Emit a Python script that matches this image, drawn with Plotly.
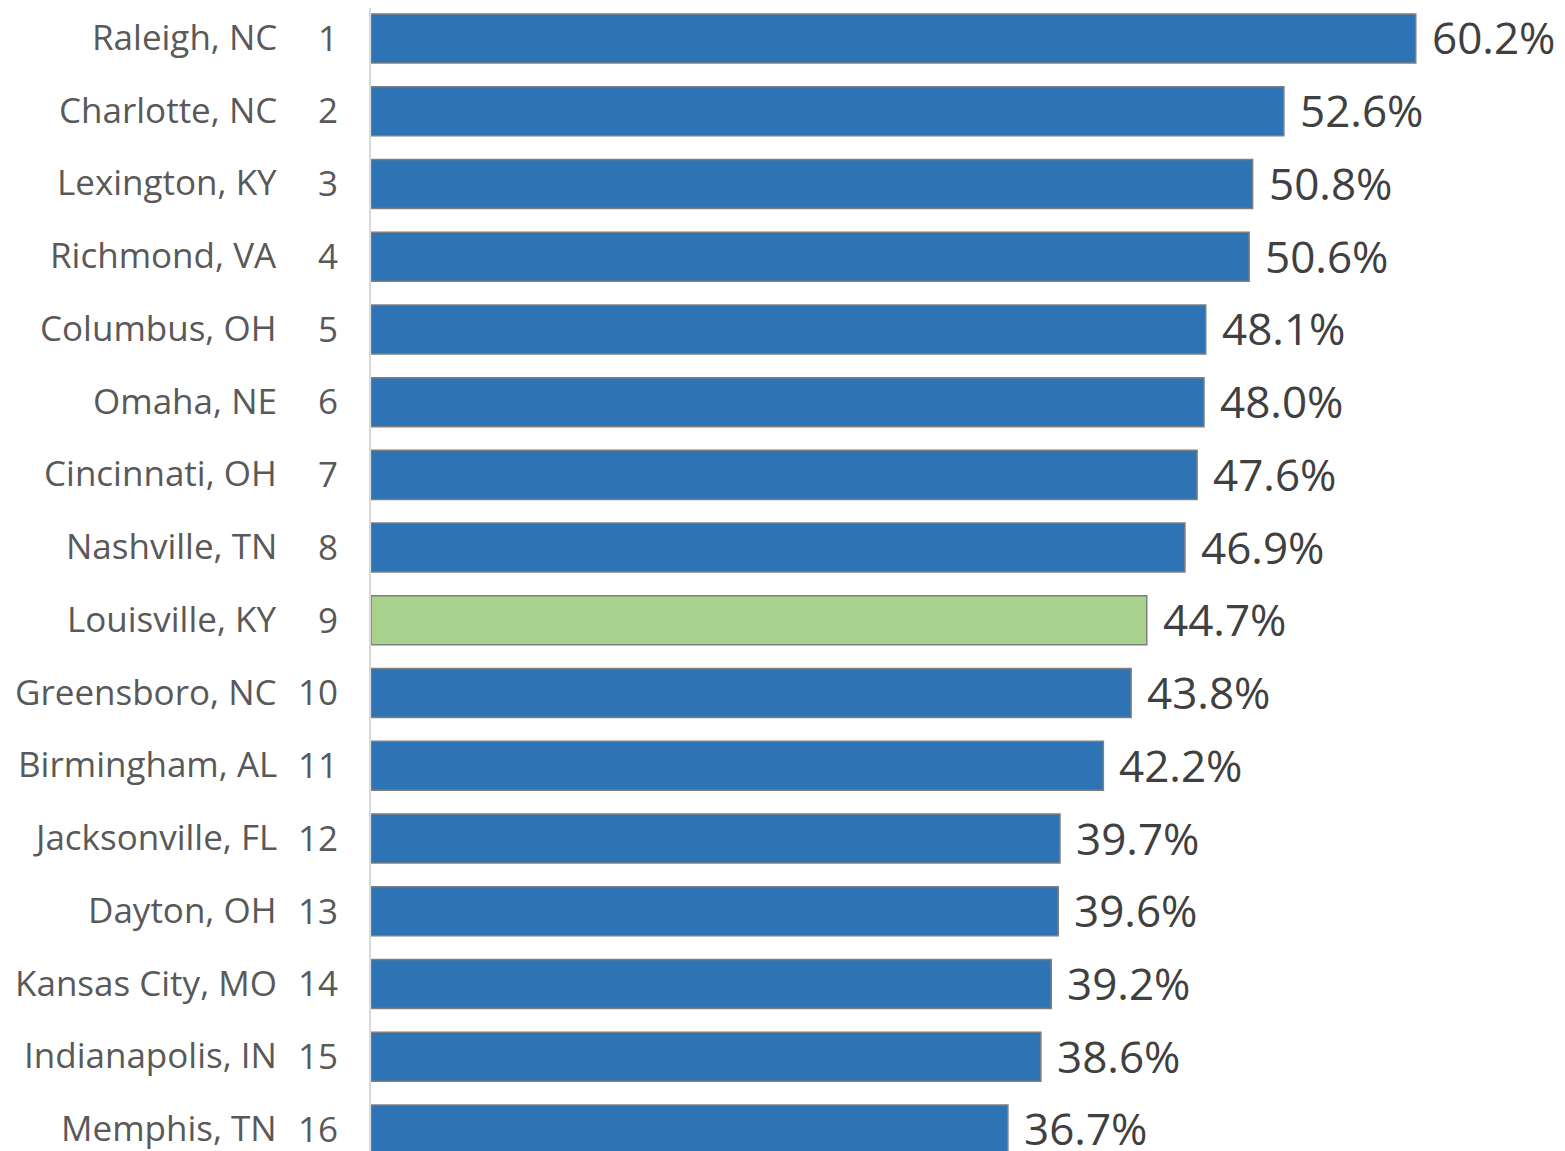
import plotly.graph_objects as go

# data
cities = ["Raleigh, NC", "Charlotte, NC", "Lexington, KY", "Richmond, VA",
          "Columbus, OH", "Omaha, NE", "Cincinnati, OH", "Nashville, TN",
          "Louisville, KY", "Greensboro, NC", "Birmingham, AL", "Jacksonville, FL",
          "Dayton, OH", "Kansas City, MO", "Indianapolis, IN", "Memphis, TN"]
ranks = [str(i) for i in range(1, 17)]
values = [60.2, 52.6, 50.8, 50.6, 48.1, 48.0, 47.6, 46.9,
          44.7, 43.8, 42.2, 39.7, 39.6, 39.2, 38.6, 36.7]
highlight = "Louisville, KY"

BLUE = "#2E74B5"
GREEN = "#A9D18E"
colors = [GREEN if c == highlight else BLUE for c in cities]

fig = go.Figure(go.Bar(
    x=values,
    y=cities,
    orientation="h",
    marker=dict(color=colors, line=dict(color="#7F7F7F", width=1.5)),
    hoverinfo="skip",
))

# value labels to the right of each bar
for c, v in zip(cities, values):
    fig.add_annotation(
        x=v, y=c, xref="x", yref="y",
        text=f"{v:.1f}%", showarrow=False,
        xanchor="left", xshift=14, yshift=1,
        font=dict(family="Open Sans", size=44, color="#404040"),
    )

# city names left of the rank numbers
for c in cities:
    fig.add_annotation(
        x=-0.0770, y=c, xref="paper", yref="y",
        text=c, showarrow=False, xanchor="right", yshift=2,
        font=dict(family="Open Sans", size=35, color="#595959"),
    )

fig.update_xaxes(range=[0, 68.8], visible=False)
fig.update_yaxes(
    categoryorder="array", categoryarray=cities,
    range=[15.296, -0.419],
    tickmode="array", tickvals=cities, ticktext=ranks,
    ticklabelstandoff=24,
    tickfont=dict(family="Open Sans", size=35, color="#595959"),
    showline=True, linecolor="#D9D9D9", linewidth=2,
    showgrid=False, zeroline=False,
)
# page body has an 8px margin, so the figure is 8px smaller than the window
fig.update_layout(
    width=1557, height=1143,
    margin=dict(l=363, r=0, t=0, b=0),
    bargap=0.326,
    plot_bgcolor="white", paper_bgcolor="white",
    showlegend=False,
)

fig.write_html("out.html")
